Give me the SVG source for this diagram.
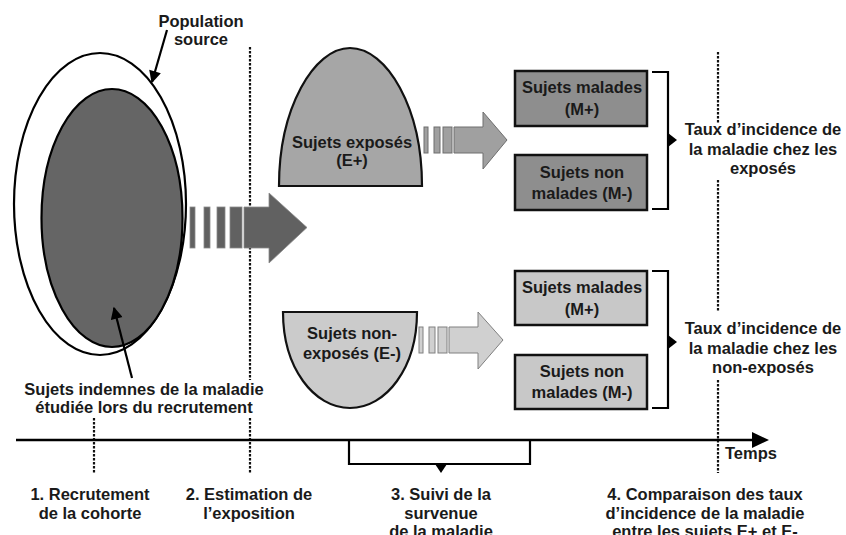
<svg xmlns="http://www.w3.org/2000/svg" width="846" height="535" viewBox="0 0 846 535">
<style>
text{font-family:"Liberation Sans",Arial,sans-serif;font-weight:bold;font-size:16.5px;fill:#1a1a1a;text-anchor:middle}
.dot{stroke:#111;stroke-width:2.2;stroke-dasharray:2.5 1.5;fill:none}
.ln{stroke:#000;stroke-width:2.2;fill:none}
.box{stroke:#111;stroke-width:2.5}
</style>
<defs>
<marker id="ah" viewBox="0 0 10 10" refX="9" refY="5" markerWidth="6" markerHeight="5.5" orient="auto" markerUnits="strokeWidth">
<path d="M0,0 L10,5 L0,10 z" fill="#000"/>
</marker>
</defs>
<rect width="846" height="535" fill="#fff"/>

<g id="timeline">
<line class="dot" x1="94" y1="418" x2="94" y2="473"/>
<line class="dot" x1="250" y1="47" x2="250" y2="380"/>
<line class="dot" x1="250" y1="418" x2="250" y2="473"/>
<line class="dot" x1="718" y1="52" x2="718" y2="123"/>
<line class="dot" x1="718" y1="180" x2="718" y2="312"/>
<line class="dot" x1="718" y1="380" x2="718" y2="473"/>
<line x1="16" y1="440" x2="756" y2="440" stroke="#000" stroke-width="2.5"/>
<polygon points="752,432 769,440 752,448" fill="#000"/>
<text x="751" y="459" font-size="15.5">Temps</text>
</g>

<g id="population">
<ellipse cx="100" cy="204" rx="86" ry="151" fill="#fff" stroke="#000" stroke-width="2.2"/>
<ellipse cx="112" cy="218" rx="70.5" ry="129" fill="#656565" stroke="#000" stroke-width="2.2"/>
<text x="201" y="27">Population</text>
<text x="201" y="45">source</text>
<text x="144" y="395">Sujets indemnes de la maladie</text>
<text x="144" y="413">étudiée lors du recrutement</text>
</g>

<g id="exposes">
<path d="M279,186 C279,108 314,48 350,48 C387,48 422,108 422,186 Z" fill="#a6a6a6" stroke="#111" stroke-width="2.2"/>
<text x="352" y="148">Sujets exposés</text>
<text x="352" y="166">(E+)</text>
</g>

<g id="nonexposes">
<path d="M283,312 L417,312 C417,368 386,408 350,408 C314,408 283,368 283,312 Z" fill="#cbcbcb" stroke="#111" stroke-width="2.2"/>
<text x="352" y="339">Sujets non-</text>
<text x="352" y="359">exposés (E-)</text>
</g>

<g id="box-mplus-exp">
<rect class="box" x="515" y="71" width="132" height="55" fill="#8e8e8e"/>
<text x="582" y="93">Sujets malades</text>
<text x="582" y="115">(M+)</text>
</g>
<g id="box-mminus-exp">
<rect class="box" x="515" y="155" width="132" height="55" fill="#8e8e8e"/>
<text x="582" y="178">Sujets non</text>
<text x="582" y="199">malades (M-)</text>
</g>
<g id="box-mplus-nonexp">
<rect class="box" x="515" y="271" width="132" height="54" fill="#c8c8c8"/>
<text x="582" y="293">Sujets malades</text>
<text x="582" y="315">(M+)</text>
</g>
<g id="box-mminus-nonexp">
<rect class="box" x="515" y="355" width="132" height="54" fill="#c8c8c8"/>
<text x="582" y="377">Sujets non</text>
<text x="582" y="398">malades (M-)</text>
</g>

<g id="taux-exp">
<text x="763" y="135">Taux d’incidence de</text>
<text x="763" y="155">la maladie chez les</text>
<text x="763" y="174">exposés</text>
</g>
<g id="taux-nonexp">
<text x="763" y="334">Taux d’incidence de</text>
<text x="763" y="354">la maladie chez les</text>
<text x="763" y="373">non-exposés</text>
</g>

<g id="steps">
<text x="90" y="500">1. Recrutement</text>
<text x="90" y="519">de la cohorte</text>
<text x="249" y="500">2. Estimation de</text>
<text x="249" y="519">l’exposition</text>
<text x="441" y="500">3. Suivi de la</text>
<text x="441" y="519">survenue</text>
<text x="441" y="537">de la maladie</text>
<text x="705" y="500">4. Comparaison des taux</text>
<text x="705" y="519">d’incidence de la maladie</text>
<text x="705" y="537">entre les sujets E+ et E-</text>
</g>

<g id="connectors">
<g fill="#616161" stroke="#8a8a8a" stroke-width="0.8">
<rect x="190" y="207" width="5" height="41"/>
<rect x="204" y="207" width="6" height="41"/>
<rect x="217" y="207" width="8" height="41"/>
<rect x="230" y="207" width="12" height="41"/>
<polygon points="244,207 269,207 269,193 307,227.5 269,263 269,248 244,248"/>
</g>
<g fill="#a0a0a0" stroke="#6e6e6e" stroke-width="1">
<rect x="424" y="127" width="4" height="26"/>
<rect x="434" y="127" width="6" height="26"/>
<rect x="443" y="127" width="9" height="26"/>
<polygon points="454,127 483,127 483,112 507,140 483,169 483,153 454,153"/>
</g>
<g fill="#d0d0d0" stroke="#808080" stroke-width="1">
<rect x="419" y="327" width="4" height="26"/>
<rect x="429" y="327" width="6" height="26"/>
<rect x="438" y="327" width="9" height="26"/>
<polygon points="449,327 478,327 478,312 503,340 478,369 478,353 449,353"/>
</g>
<line x1="167" y1="30" x2="152" y2="82" class="ln" marker-end="url(#ah)"/>
<line x1="132" y1="378" x2="114" y2="308" class="ln" marker-end="url(#ah)"/>
<path class="ln" d="M652,72 H668 V209 H652"/>
<polygon points="668,133 677,140 668,147" fill="#000"/>
<path class="ln" d="M652,271 H668 V408 H652"/>
<polygon points="668,335 677,342 668,349" fill="#000"/>
<path class="ln" d="M349,441 V464 H530 V441"/>
<polygon points="435,464 447,464 441,473" fill="#000"/>
</g>
</svg>
